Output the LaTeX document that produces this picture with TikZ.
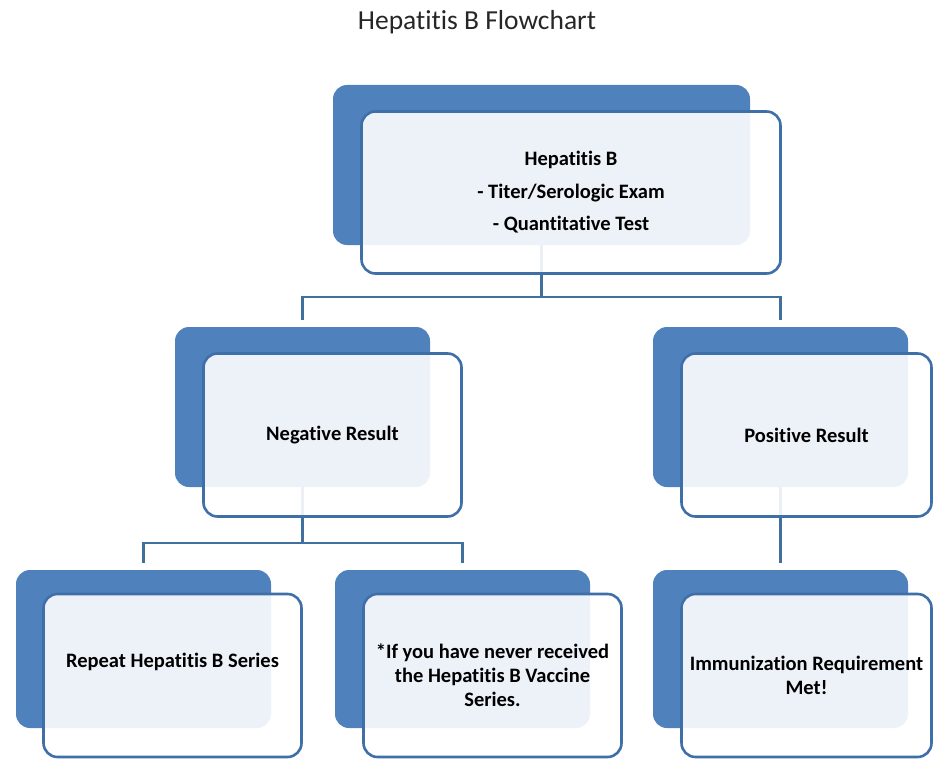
\documentclass[tikz,border=0pt]{standalone}
\usepackage{fontspec}
\setmainfont{Carlito}[Ligatures=NoCommon]
\definecolor{hepblue}{HTML}{4F81BD}
\definecolor{hepedge}{HTML}{3F6FA8}
\definecolor{hepline}{HTML}{41709E}
\begin{document}
\begin{tikzpicture}[x=1pt,y=-1pt,
  backbox/.style={fill=hepblue, rounded corners=14pt, minimum width=255pt, minimum height=158pt, inner sep=0pt},
  frontbox/.style={draw=hepedge, line width=2.6pt, fill=white, fill opacity=0.9, text opacity=1,
    rounded corners=14pt, minimum width=258pt, minimum height=163pt, inner sep=0pt, align=center,
    font=\bfseries\fontsize{20.5}{24}\selectfont},
  link/.style={draw=hepline, line width=2.8pt}]
  \useasboundingbox (0,0) rectangle (933,759);
  % Titel
  \node[font=\fontsize{27.5}{30}\selectfont, text=black!85] (title) at (477,22) {Hepatitis B Flowchart};
  % hintere Kästen
  \node[backbox, minimum width=417pt, minimum height=160pt] (hepBback) at (541.5,165) {};
  \node[backbox, minimum height=160pt] (negback) at (302.5,407) {};
  \node[backbox, minimum height=160pt] (posback) at (780.5,407) {};
  \node[backbox] (repback) at (143.5,649) {};
  \node[backbox] (vacback) at (462.5,649) {};
  \node[backbox] (metback) at (780.5,649) {};
  % Verbindungen
  \coordinate (topjoin) at (541.5,297);
  \coordinate (negjoin) at (302.5,543);
  \draw[link] (hepBback.south) -- (topjoin);
  \draw[link] ([yshift=7pt]negback.north) |- (topjoin) -| ([yshift=7pt]posback.north);
  \draw[link] (negback.south) -- (negjoin);
  \draw[link] ([yshift=7pt]repback.north) |- (negjoin) -| ([yshift=7pt]vacback.north);
  \draw[link] (posback.south) -- ([yshift=7pt]metback.north);
  % vordere Kästen
  \node[frontbox, minimum width=419pt, minimum height=162pt, font=\bfseries\fontsize{20.5}{32.5}\selectfont]
    (hepBfront) at (571,192.5) {Hepatitis B\\- Titer/Serologic Exam\\- Quantitative Test};
  \node[frontbox] (negfront) at (332.5,435) {Negative Result};
  \node[frontbox, minimum width=250pt] (posfront) at (806.5,435) {Positive Result};
  \node[frontbox] (repfront) at (172.5,675.5) {\raisebox{30pt}{Repeat Hepatitis B Series}};
  \node[frontbox] (vacfront) at (492.5,675.5) {*If you have never received\\the Hepatitis B Vaccine\\Series.};
  \node[frontbox, minimum width=250pt] (metfront) at (806.5,675.5) {Immunization Requirement\\Met!};
\end{tikzpicture}
\end{document}
